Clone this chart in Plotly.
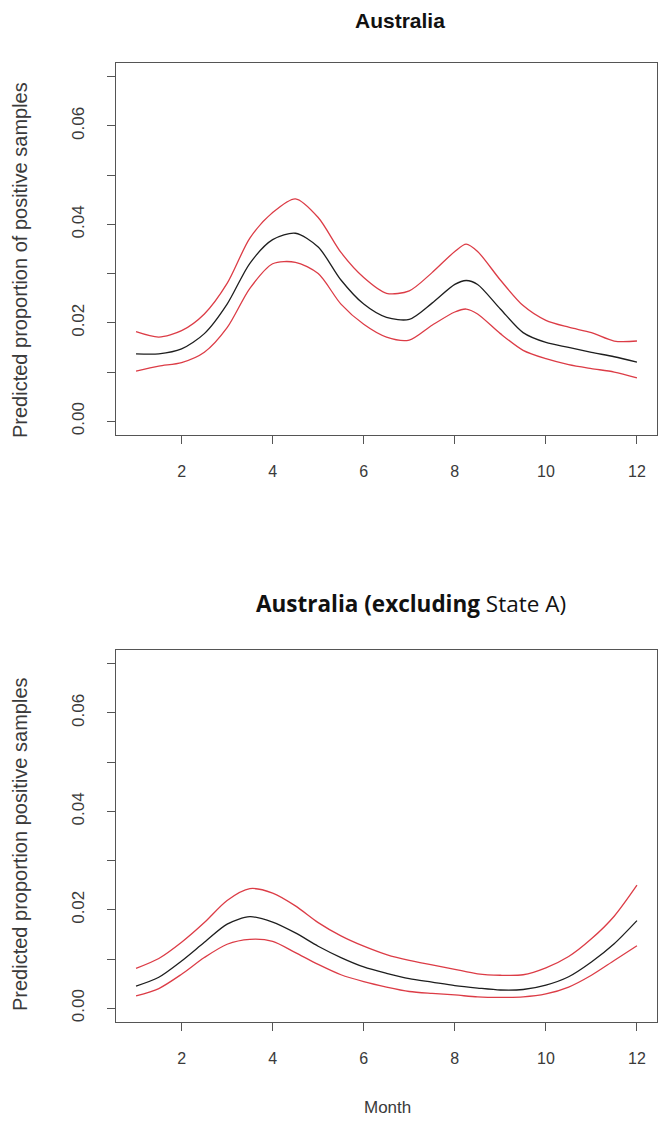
import plotly.graph_objects as go

# ---- Data ----
months_top = [1, 1.5, 2, 2.5, 3, 3.5, 4, 4.5, 5, 5.5, 6, 6.5, 7, 7.5, 8, 8.25, 8.5, 9, 9.5, 10, 10.5, 11, 11.5, 12]
top_mean = [0.0137, 0.0137, 0.0147, 0.0178, 0.0238, 0.0321, 0.0369, 0.0382, 0.0354, 0.0287, 0.0238, 0.0211,
            0.0207, 0.0240, 0.0278, 0.0286, 0.0278, 0.0228, 0.0180, 0.0160, 0.0150, 0.0140, 0.0131, 0.0120]
top_upper = [0.0182, 0.0171, 0.0184, 0.0218, 0.0280, 0.0372, 0.0424, 0.0452, 0.0414, 0.0343, 0.0292, 0.0260,
             0.0265, 0.0302, 0.0345, 0.0360, 0.0345, 0.0287, 0.0235, 0.0205, 0.0191, 0.0180, 0.0163, 0.0163]
top_lower = [0.0102, 0.0112, 0.0119, 0.0140, 0.0190, 0.0270, 0.0320, 0.0323, 0.0300, 0.0238, 0.0197, 0.0171,
             0.0165, 0.0195, 0.0222, 0.0228, 0.0218, 0.0178, 0.0144, 0.0127, 0.0115, 0.0107, 0.0100, 0.0088]

months_bot = [1, 1.5, 2, 2.5, 3, 3.5, 4, 4.5, 5, 5.5, 6, 6.5, 7, 7.5, 8, 8.5, 9, 9.5, 10, 10.5, 11, 11.5, 12]
bot_mean = [0.0045, 0.0063, 0.0096, 0.0134, 0.0171, 0.0186, 0.0175, 0.0153, 0.0126, 0.0103, 0.0084, 0.0071,
            0.0060, 0.0053, 0.0046, 0.0041, 0.0037, 0.0038, 0.0047, 0.0064, 0.0094, 0.0131, 0.0178]
bot_upper = [0.0081, 0.0101, 0.0134, 0.0174, 0.0219, 0.0243, 0.0234, 0.0208, 0.0174, 0.0147, 0.0126, 0.0109,
             0.0097, 0.0088, 0.0079, 0.0070, 0.0067, 0.0068, 0.0082, 0.0105, 0.0141, 0.0187, 0.0250]
bot_lower = [0.0025, 0.0040, 0.0069, 0.0103, 0.0130, 0.0140, 0.0136, 0.0113, 0.0089, 0.0068, 0.0054, 0.0043,
             0.0034, 0.0030, 0.0027, 0.0023, 0.0022, 0.0023, 0.0029, 0.0043, 0.0067, 0.0097, 0.0127]

x_ticks = [2, 4, 6, 8, 10, 12]
y_ticks = [0.00, 0.01, 0.02, 0.03, 0.04, 0.05, 0.06, 0.07]
y_ticktext = ["0.00", "", "0.02", "", "0.04", "", "0.06", ""]

titles = ["<b>Australia</b>", "<b>Australia (excluding</b> State A)"]
ylabels = ["Predicted proportion of positive samples", "Predicted proportion positive samples"]
xlabel = "Month"

# ---- Figure ----
W, H = 662, 1124
RED = "#dc3c46"
BLACK = "#1e1e1e"
AX = "#555555"
TXT = "#3a3a3a"

fig = go.Figure()

panels = [
    (months_top, top_mean, top_upper, top_lower, "x", "y"),
    (months_bot, bot_mean, bot_upper, bot_lower, "x2", "y2"),
]
for m, mean, up, lo, xa, ya in panels:
    for vals, col in [(up, RED), (lo, RED), (mean, BLACK)]:
        fig.add_trace(go.Scatter(x=m, y=vals, mode="lines", xaxis=xa, yaxis=ya,
                                 line=dict(color=col, width=1.3, shape="spline", smoothing=0.8),
                                 showlegend=False, hoverinfo="skip"))

def px_to_frac_y(p):
    return (H - p) / H

xdom = [116 / W, 657 / W]
top_dom = [px_to_frac_y(435), px_to_frac_y(63)]
bot_dom = [px_to_frac_y(1022), px_to_frac_y(650)]

xcommon = dict(range=[0.56, 12.44], tickvals=x_ticks, ticks="outside", ticklen=8, tickcolor=AX,
               showline=True, linecolor=AX, linewidth=1.2, mirror=True, showgrid=False, zeroline=False,
               tickfont=dict(family="Liberation Sans, Arial", size=16, color=TXT), ticklabelstandoff=14,
               domain=xdom)
ycommon = dict(range=[-0.0028, 0.0728], tickvals=y_ticks, ticktext=y_ticktext, ticks="outside", ticklen=8,
               tickcolor=AX, showline=True, linecolor=AX, linewidth=1.2, mirror=True, showgrid=False,
               zeroline=False, tickangle=-90,
               tickfont=dict(family="Liberation Sans, Arial", size=17, color=TXT), ticklabelstandoff=16)

fig.update_layout(
    width=W, height=H, margin=dict(l=0, r=0, t=0, b=0, autoexpand=False),
    paper_bgcolor="white", plot_bgcolor="white",
    xaxis=dict(**xcommon, anchor="y"),
    yaxis=dict(**ycommon, domain=top_dom, anchor="x"),
    xaxis2=dict(**xcommon, anchor="y2"),
    yaxis2=dict(**ycommon, domain=bot_dom, anchor="x2"),
)

anns = [
    dict(text=titles[0], x=400 / W, y=px_to_frac_y(21), font=dict(family="Liberation Sans, Arial", size=21, color="#111")),
    dict(text=titles[1], x=411 / W, y=px_to_frac_y(603), font=dict(family="Open Sans", size=22.5, color="#111")),
    dict(text=ylabels[0], x=20 / W, y=px_to_frac_y(260), textangle=-90,
         font=dict(family="Liberation Sans, Arial", size=20, color=TXT)),
    dict(text=ylabels[1], x=20 / W, y=px_to_frac_y(844), textangle=-90,
         font=dict(family="Liberation Sans, Arial", size=20, color=TXT)),
    dict(text=xlabel, x=387 / W, y=px_to_frac_y(1107), font=dict(family="Liberation Sans, Arial", size=17, color=TXT)),
]
for a in anns:
    fig.add_annotation(xref="paper", yref="paper", showarrow=False, xanchor="center", yanchor="middle", **a)

fig.write_html("out.html")
